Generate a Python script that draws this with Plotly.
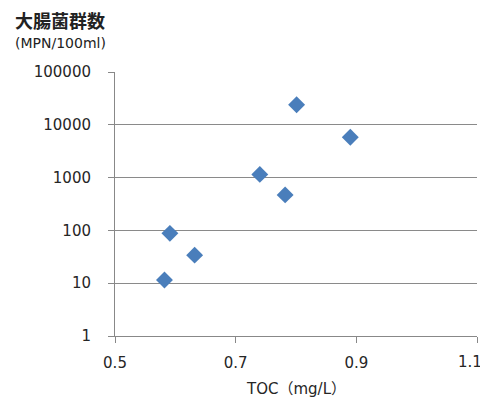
import plotly.graph_objects as go

toc = [0.801, 0.890, 0.740, 0.782, 0.591, 0.632, 0.582]
coliform = [24000, 5800, 1150, 470, 88, 34, 11.5]

y_tickvals = [1, 10, 100, 1000, 10000, 100000]
y_ticktext = ["1", "10", "100", "1000", "10000", "100000"]
x_tickvals = [0.5, 0.7, 0.9, 1.1]
x_ticktext = ["0.5", "0.7", "0.9", "1.1"]

# the page body has an 8px margin, so the figure is drawn 8px smaller
# and its left/top margins reduced by 8px to keep the plot in place
W, H = 480, 390
L, R, T, B = 107, 11, 64, 62
PW, PH = W - L - R, H - T - B

fig = go.Figure()
fig.add_trace(go.Scatter(
    x=toc, y=coliform, mode="markers",
    marker=dict(symbol="diamond", size=13, color="#4a7ebb"),
    showlegend=False, cliponaxis=False,
))

tick_font = dict(family="DejaVu Sans, sans-serif", size=15, color="#262626")

fig.update_layout(
    width=W, height=H,
    margin=dict(l=L, r=R, t=T, b=B, autoexpand=False),
    paper_bgcolor="white", plot_bgcolor="white",
    font=dict(family="DejaVu Sans, Noto Sans CJK JP, sans-serif", size=14, color="#222"),
    xaxis=dict(
        range=[0.5, 1.1], tickvals=x_tickvals,
        ticktext=x_ticktext[:-1] + [""],
        showgrid=False, showline=True, linecolor="#888", linewidth=1,
        ticks="outside", ticklen=13, tickcolor="rgba(0,0,0,0)",
        tickfont=tick_font,
        minor=dict(tickvals=x_tickvals, ticks="outside", ticklen=6,
                   tickcolor="#888", showgrid=False),
        zeroline=False, automargin=False,
    ),
    yaxis=dict(
        type="log", range=[0, 5], tickvals=y_tickvals, ticktext=y_ticktext,
        showgrid=True, gridcolor="#8a8a8a", gridwidth=1,
        showline=True, linecolor="#888", linewidth=1,
        ticks="outside", ticklen=20, tickcolor="rgba(0,0,0,0)",
        tickfont=tick_font,
        minor=dict(tickvals=y_tickvals, ticks="outside", ticklen=6,
                   tickcolor="#888", showgrid=False),
        zeroline=False, automargin=False,
    ),
)

# last x tick label is nudged left so it fits inside the figure
fig.add_annotation(text=x_ticktext[-1], xref="x", yref="paper",
                   x=x_tickvals[-1], y=-26 / PH, xanchor="center", yanchor="middle",
                   xshift=-7, showarrow=False, font=tick_font)

fig.add_annotation(text="<b>大腸菌群数</b>", xref="paper", yref="paper",
                   x=-102 / PW, y=1 + 52 / PH, xanchor="left", yanchor="middle",
                   showarrow=False,
                   font=dict(family="Noto Sans CJK JP", size=18, color="#222"))
fig.add_annotation(text="(MPN/100ml)", xref="paper", yref="paper",
                   x=-102 / PW, y=1 + 29 / PH, xanchor="left", yanchor="middle",
                   showarrow=False,
                   font=dict(family="DejaVu Sans, Noto Sans CJK JP", size=14, color="#222"))
fig.add_annotation(text="TOC（mg/L）", xref="paper", yref="paper",
                   x=0.5, y=-53 / PH, xanchor="center", yanchor="middle",
                   showarrow=False,
                   font=dict(family="DejaVu Sans, Noto Sans CJK JP", size=15, color="#262626"))

fig.write_html("out.html")
